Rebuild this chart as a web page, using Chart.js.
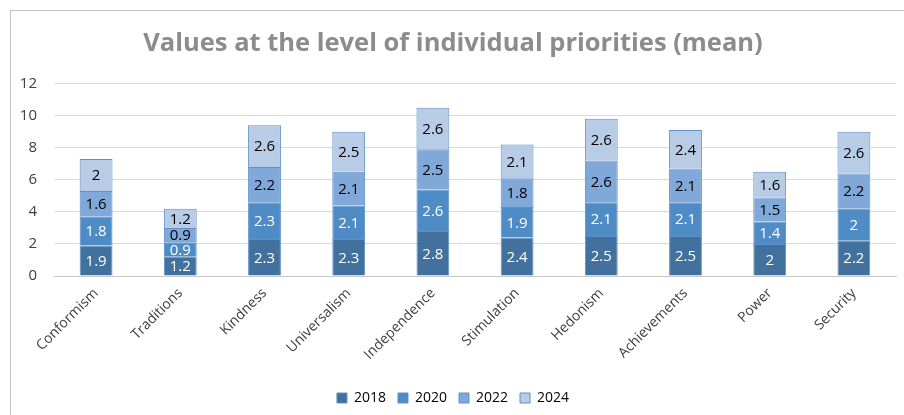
<!DOCTYPE html>
<html>
<head>
<meta charset="utf-8">
<script src="https://cdn.jsdelivr.net/npm/chart.js@4"></script>
<style>
  html, body { margin: 0; padding: 0; background: #fff; }
  #wrap { position: relative; width: 904px; height: 415px; }
  #frame { position: absolute; left: 10px; top: 10px; right: 0; bottom: 0;
           border-top: 1px solid #c4c4c4; border-left: 1px solid #c4c4c4; }
  canvas { position: absolute; left: 0; top: 0; }
</style>
</head>
<body>
<div id="wrap">
  <div id="frame"></div>
  <canvas id="valuesChart" width="904" height="415"></canvas>
</div>
<script>
const categories = ['Conformism', 'Traditions', 'Kindness', 'Universalism', 'Independence',
                    'Stimulation', 'Hedonism', 'Achievements', 'Power', 'Security'];
const years = ['2018', '2020', '2022', '2024'];
const values2018 = [1.9, 1.2, 2.3, 2.3, 2.8, 2.4, 2.5, 2.5, 2, 2.2];
const values2020 = [1.8, 0.9, 2.3, 2.1, 2.6, 1.9, 2.1, 2.1, 1.4, 2];
const values2022 = [1.6, 0.9, 2.2, 2.1, 2.5, 1.8, 2.6, 2.1, 1.5, 2.2];
const values2024 = [2, 1.2, 2.6, 2.5, 2.6, 2.1, 2.6, 2.4, 1.6, 2.6];
const yTicks = [0, 2, 4, 6, 8, 10, 12];

const fills = ['#41719c', '#4f8bc5', '#80a8d8', '#b8cce6'];
const labelColors = ['#ffffff', '#ffffff', '#000000', '#000000'];
const fontName = '"Open Sans", "Noto Sans", sans-serif';

// draws the value inside each stacked segment
const segmentLabels = {
    id: 'segmentLabels',
    afterDatasetsDraw(chart) {
        const ctx = chart.ctx;
        ctx.save();
        ctx.font = '15px ' + fontName;
        ctx.textAlign = 'center';
        ctx.textBaseline = 'middle';
        chart.data.datasets.forEach(function(ds, i) {
            const meta = chart.getDatasetMeta(i);
            meta.data.forEach(function(bar, j) {
                ctx.fillStyle = labelColors[i];
                ctx.fillText(String(ds.data[j]), bar.x, (bar.y + bar.base) / 2 + 1);
            });
        });
        ctx.restore();
    }
};

document.addEventListener('DOMContentLoaded', function() {
    const ctx = document.getElementById('valuesChart').getContext('2d');
    const series = [values2018, values2020, values2022, values2024];
    new Chart(ctx, {
        type: 'bar',
        data: {
            labels: categories,
            datasets: years.map(function(y, i) {
                return {
                    label: y,
                    data: series[i],
                    backgroundColor: fills[i],
                    borderColor: '#5e8fc8',
                    borderWidth: 1,
                    categoryPercentage: 1,
                    barPercentage: 0.39
                };
            })
        },
        options: {
            responsive: false,
            animation: false,
            layout: { padding: { left: 10, right: 8, top: 0, bottom: 0 } },
            plugins: {
                title: {
                    display: true,
                    text: 'Values at the level of individual priorities (mean)',
                    color: '#8c8c8c',
                    font: { family: fontName, size: 25.5, weight: 'bold' },
                    padding: { top: 28, bottom: 25 }
                },
                legend: {
                    position: 'bottom',
                    labels: {
                        color: '#404040',
                        font: { family: fontName, size: 14 },
                        boxWidth: 10,
                        boxHeight: 10,
                        padding: 12,
                        generateLabels(chart) {
                            return chart.data.datasets.map(function(ds, i) {
                                return {
                                    text: ds.label,
                                    fillStyle: fills[i],
                                    strokeStyle: '#5e8fc8',
                                    lineWidth: 1,
                                    datasetIndex: i
                                };
                            });
                        }
                    }
                },
                tooltip: { enabled: false }
            },
            scales: {
                x: {
                    stacked: true,
                    grid: { display: false, drawTicks: false },
                    border: { display: true, color: '#c8c8c8' },
                    ticks: {
                        color: '#404040',
                        font: { family: fontName, size: 14 },
                        maxRotation: 45,
                        minRotation: 45,
                        padding: 9
                    },
                    afterFit(scale) { scale.height = 103; }
                },
                y: {
                    stacked: true,
                    min: 0,
                    max: 12,
                    afterBuildTicks(scale) {
                        scale.ticks = yTicks.map(function(v) { return { value: v }; });
                    },
                    grid: { color: '#d9d9d9', drawTicks: false },
                    border: { display: false },
                    ticks: {
                        color: '#404040',
                        font: { family: fontName, size: 15 },
                        padding: 17
                    },
                    afterFit(scale) { scale.width = 44; }
                }
            }
        },
        plugins: [segmentLabels]
    });
});
</script>
</body>
</html>
